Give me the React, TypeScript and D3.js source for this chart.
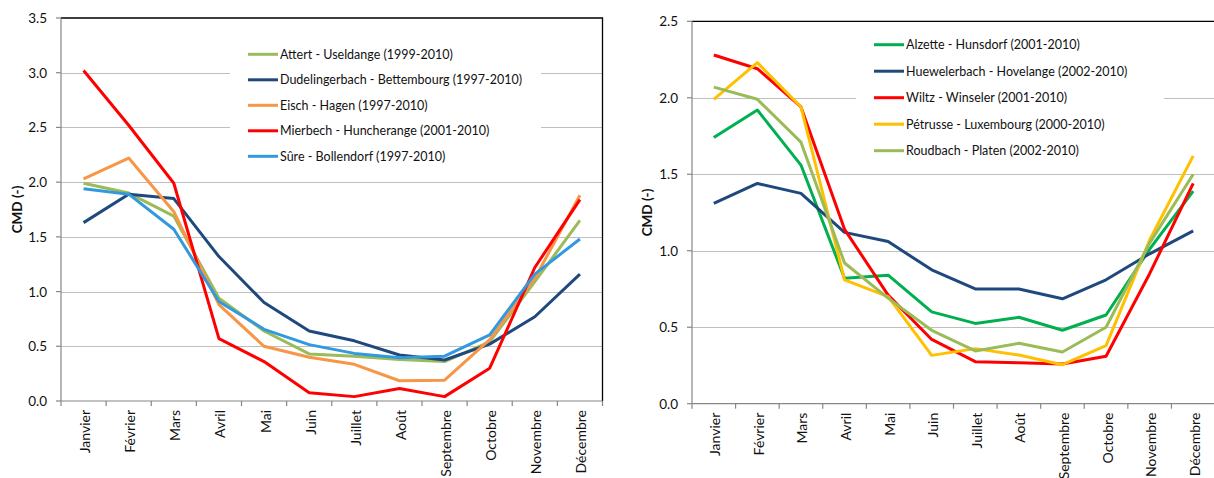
import React from 'react';
import * as d3 from 'd3';

const months = ['Janvier', 'Février', 'Mars', 'Avril', 'Mai', 'Juin', 'Juillet', 'Août', 'Septembre', 'Octobre', 'Novembre', 'Décembre'];

// left chart
const leftNames = [
  'Attert - Useldange (1999-2010)',
  'Dudelingerbach - Bettembourg (1997-2010)',
  'Eisch - Hagen (1997-2010)',
  'Mierbech - Huncherange (2001-2010)',
  'Sûre - Bollendorf (1997-2010)',
];
const attert = [1.99, 1.9, 1.69, 0.94, 0.64, 0.43, 0.41, 0.38, 0.36, 0.54, 1.09, 1.65];
const dudelingerbach = [1.63, 1.89, 1.85, 1.32, 0.9, 0.64, 0.55, 0.42, 0.375, 0.52, 0.77, 1.16];
const eisch = [2.03, 2.22, 1.73, 0.88, 0.5, 0.4, 0.335, 0.185, 0.19, 0.56, 1.12, 1.88];
const mierbech = [3.02, 2.52, 1.99, 0.57, 0.36, 0.075, 0.04, 0.115, 0.04, 0.3, 1.22, 1.84];
const sure = [1.94, 1.89, 1.57, 0.91, 0.655, 0.515, 0.435, 0.395, 0.41, 0.605, 1.16, 1.48];
const leftTicks = [0, 0.5, 1, 1.5, 2, 2.5, 3, 3.5];

// right chart
const rightNames = [
  'Alzette - Hunsdorf (2001-2010)',
  'Huewelerbach - Hovelange (2002-2010)',
  'Wiltz - Winseler (2001-2010)',
  'Pétrusse - Luxembourg (2000-2010)',
  'Roudbach - Platen (2002-2010)',
];
const alzette = [1.74, 1.92, 1.56, 0.82, 0.84, 0.6, 0.525, 0.565, 0.48, 0.58, 1.01, 1.39];
const huewelerbach = [1.31, 1.44, 1.375, 1.12, 1.06, 0.875, 0.75, 0.75, 0.686, 0.81, 0.98, 1.13];
const wiltz = [2.28, 2.19, 1.94, 1.14, 0.71, 0.42, 0.275, 0.268, 0.26, 0.31, 0.85, 1.44];
const petrusse = [1.99, 2.23, 1.94, 0.81, 0.7, 0.316, 0.36, 0.318, 0.255, 0.38, 1.07, 1.62];
const roudbach = [2.07, 1.99, 1.71, 0.92, 0.69, 0.48, 0.345, 0.395, 0.338, 0.5, 1.05, 1.5];
const rightTicks = [0, 0.5, 1, 1.5, 2, 2.5];

const FONT = 'Lato, "Open Sans", sans-serif';
const TEXT = '#111';

interface ChartProps {
  x0: number; x1: number; y0: number; y1: number;
  ticks: number[];
  series: { name: string; color: string; values: number[] }[];
  legend: { x: number; y: number; w: number; h: number; row: number; first: number };
  labelX: number;
}

function Chart({ x0, x1, y0, y1, ticks, series, legend, labelX }: ChartProps) {
  const x = d3.scaleBand<string>().domain(months).range([x0, x1]);
  const y = d3.scaleLinear().domain([0, d3.max(ticks) as number]).range([y1, y0]);
  const line = d3.line<number>()
    .x((d, i) => (x(months[i]) as number) + x.bandwidth() / 2)
    .y(d => y(d));
  const bounds = months.map(m => x(m) as number).concat([x1]);

  return (
    <g>
      {ticks.slice(1, -1).map(t => (
        <line key={t} x1={x0} x2={x1} y1={Math.round(y(t)) + 0.5} y2={Math.round(y(t)) + 0.5} stroke="#bfbfbf" strokeWidth={1.2} />
      ))}
      {/* top and right border of the plot area */}
      <path d={`M${x0},${y0}H${x1}V${y1}`} fill="none" stroke="#000" strokeWidth={1.3} />
      {/* axes */}
      <line x1={x0} x2={x0} y1={y0} y2={y1} stroke="#868686" strokeWidth={1.2} />
      <line x1={x0} x2={x1} y1={y1} y2={y1} stroke="#868686" strokeWidth={1.2} />
      {ticks.map(t => (
        <g key={t}>
          <line x1={x0 - 5} x2={x0} y1={y(t)} y2={y(t)} stroke="#868686" strokeWidth={1.2} />
          <text x={x0 - 14} y={y(t)} textAnchor="end" dominantBaseline="central" fontSize={13.5} fill={TEXT}>{t.toFixed(1)}</text>
        </g>
      ))}
      {bounds.map((b, i) => (
        <line key={i} x1={b} x2={b} y1={y1} y2={y1 + 5} stroke="#868686" strokeWidth={1.2} />
      ))}
      {months.map(m => (
        <text key={m} transform={`translate(${(x(m) as number) + x.bandwidth() / 2 + 1},${y1 + 9}) rotate(-90)`}
          textAnchor="end" dominantBaseline="central" fontSize={14} fill={TEXT}>{m}</text>
      ))}
      <text transform={`translate(${labelX},${(y0 + y1) / 2}) rotate(-90)`} textAnchor="middle" dominantBaseline="central"
        fontSize={13.5} fontWeight="bold" fill={TEXT}>CMD (-)</text>
      {/* legend box hides the gridlines behind it */}
      <rect x={legend.x} y={legend.y} width={legend.w} height={legend.h} fill="#fff" />
      {series.map(s => (
        <path key={s.name} d={line(s.values) as string} fill="none" stroke={s.color} strokeWidth={3} strokeLinejoin="round" />
      ))}
      {series.map((s, i) => {
        const ly = legend.first + i * legend.row;
        return (
          <g key={s.name}>
            <line x1={legend.x + 18} x2={legend.x + 48} y1={ly} y2={ly} stroke={s.color} strokeWidth={3} />
            <text x={legend.x + 50} y={ly} dominantBaseline="central" fontSize={12.5} fill={TEXT}>{s.name}</text>
          </g>
        );
      })}
    </g>
  );
}

export default function App() {
  const leftSeries = [
    { name: leftNames[0], color: '#9bbb59', values: attert },
    { name: leftNames[1], color: '#1f497d', values: dudelingerbach },
    { name: leftNames[2], color: '#f79646', values: eisch },
    { name: leftNames[3], color: '#ff0000', values: mierbech },
    { name: leftNames[4], color: '#3399dd', values: sure },
  ];
  const rightSeries = [
    { name: rightNames[0], color: '#00b050', values: alzette },
    { name: rightNames[1], color: '#1f497d', values: huewelerbach },
    { name: rightNames[2], color: '#ff0000', values: wiltz },
    { name: rightNames[3], color: '#ffc000', values: petrusse },
    { name: rightNames[4], color: '#9bbb59', values: roudbach },
  ];
  return (
    <svg width={1214} height={478} style={{ position: 'absolute', left: 0, top: 0, background: '#fff' }} fontFamily={FONT}>
      <rect width={1214} height={478} fill="#fff" />
      <Chart x0={61} x1={602.5} y0={18} y1={401} ticks={leftTicks} series={leftSeries} labelX={17}
        legend={{ x: 230, y: 30, w: 311, h: 142, row: 25.5, first: 54.3 }} />
      <Chart x0={692} x1={1215} y0={21.3} y1={403.7} ticks={rightTicks} series={rightSeries} labelX={647}
        legend={{ x: 856, y: 30, w: 308, h: 135, row: 26.5, first: 44.7 }} />
    </svg>
  );
}
